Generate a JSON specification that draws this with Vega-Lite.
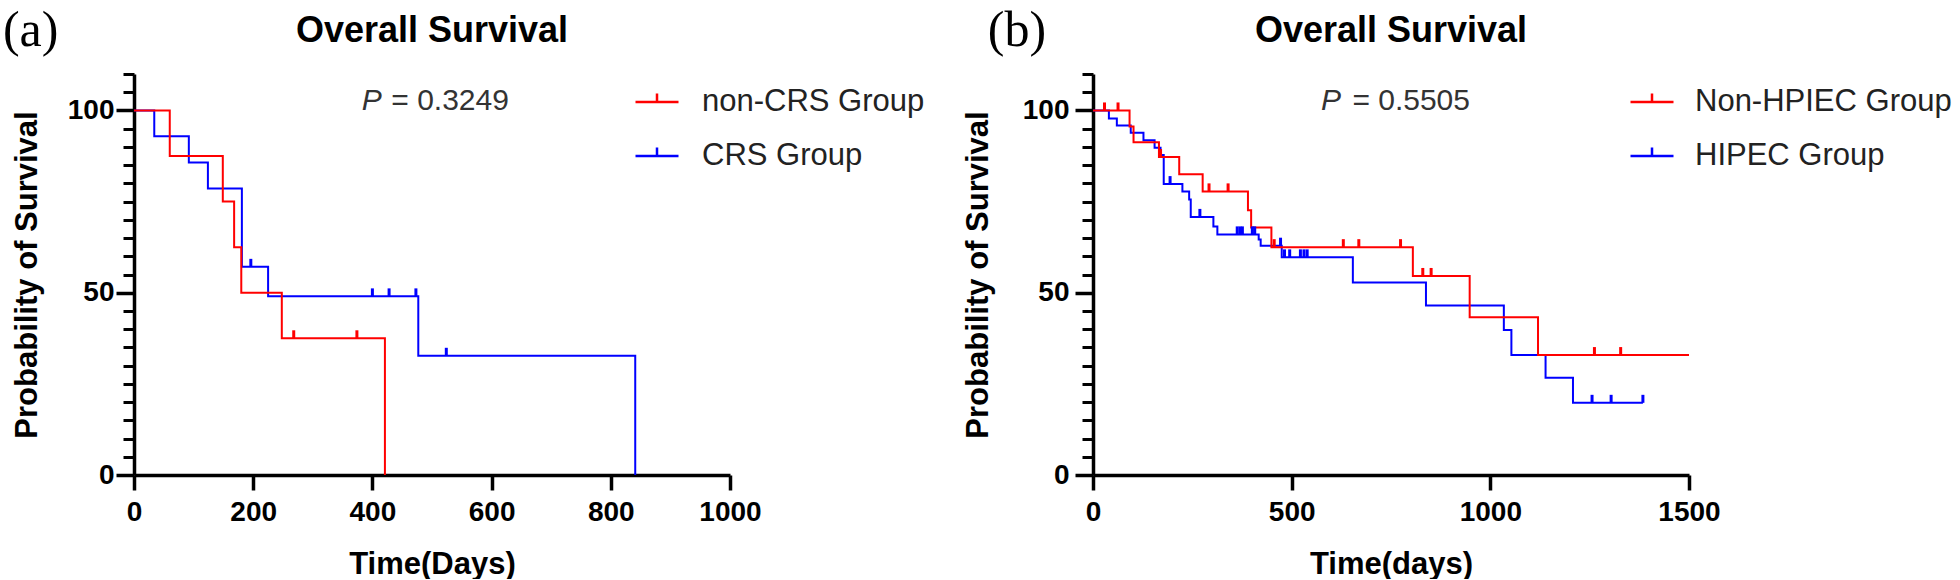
{
  "$schema": "https://vega.github.io/schema/vega-lite/v6.json",
  "background": "white",
  "padding": {"left": 2, "top": 5, "right": 0, "bottom": 0},
  "config": {"view": {"stroke": null}, "font": "Liberation Sans"},
  "bounds": "flush",
  "spacing": 363,
  "resolve": {"scale": {"color": "independent"}, "legend": {"color": "independent"}},
  "hconcat": [
    {
      "width": 596,
      "height": 401,
      "data": {"values": [
        {"group": "CRS Group", "t": 0, "s": 100, "c": 0},
        {"group": "CRS Group", "t": 34, "s": 92.9, "c": 0},
        {"group": "CRS Group", "t": 92, "s": 85.7, "c": 0},
        {"group": "CRS Group", "t": 124, "s": 78.6, "c": 0},
        {"group": "CRS Group", "t": 181, "s": 57.1, "c": 0},
        {"group": "CRS Group", "t": 196, "s": 57.1, "c": 1},
        {"group": "CRS Group", "t": 225, "s": 49.0, "c": 0},
        {"group": "CRS Group", "t": 400, "s": 49.0, "c": 1},
        {"group": "CRS Group", "t": 428, "s": 49.0, "c": 1},
        {"group": "CRS Group", "t": 473, "s": 49.0, "c": 1},
        {"group": "CRS Group", "t": 477, "s": 32.7, "c": 0},
        {"group": "CRS Group", "t": 524, "s": 32.7, "c": 1},
        {"group": "CRS Group", "t": 841, "s": 0, "c": 0},
        {"group": "non-CRS Group", "t": 0, "s": 100, "c": 0},
        {"group": "non-CRS Group", "t": 60, "s": 87.5, "c": 0},
        {"group": "non-CRS Group", "t": 149, "s": 75, "c": 0},
        {"group": "non-CRS Group", "t": 168, "s": 62.5, "c": 0},
        {"group": "non-CRS Group", "t": 180, "s": 50, "c": 0},
        {"group": "non-CRS Group", "t": 248, "s": 37.5, "c": 0},
        {"group": "non-CRS Group", "t": 268, "s": 37.5, "c": 1},
        {"group": "non-CRS Group", "t": 374, "s": 37.5, "c": 1},
        {"group": "non-CRS Group", "t": 421, "s": 0, "c": 0}
      ]},
      "layer": [
        {
          "mark": {"type": "line", "interpolate": "step-after", "strokeWidth": 2},
          "encoding": {
            "x": {"field": "t", "type": "quantitative",
              "scale": {"domain": [0, 1000], "nice": false, "zero": false},
              "axis": {"values": [0, 200, 400, 600, 800, 1000], "format": "d", "title": "Time(Days)",
                "titleFontSize": 31, "titleFontWeight": "bold", "titleColor": "black", "titlePadding": 23,
                "labelFontSize": 28, "labelFontWeight": "bold", "labelColor": "black", "labelPadding": 8,
                "labelFlush": false, "labelOverlap": false,
                "tickSize": 15, "tickWidth": 3.5, "tickColor": "black",
                "domainColor": "black", "domainWidth": 3.5, "grid": false}},
            "y": {"field": "s", "type": "quantitative",
              "scale": {"domain": [0, 110], "nice": false},
              "axis": {"orient": "left", "values": [0, 50, 100], "title": "Probability of Survival",
                "titleFontSize": 31, "titleFontWeight": "bold", "titleColor": "black", "titlePadding": 24,
                "labelFontSize": 28, "labelFontWeight": "bold", "labelColor": "black", "labelPadding": 2,
                "tickSize": 18, "tickWidth": 3.5, "tickColor": "black",
                "domainColor": "black", "domainWidth": 3.5, "grid": false}},
            "color": {"field": "group", "type": "nominal",
              "scale": {"domain": ["non-CRS Group", "CRS Group"], "range": ["#FF0000", "#0000FF"]},
              "legend": {"orient": "none", "legendX": 500, "legendY": 5, "title": null, "padding": 0,
                "symbolType": "M-1,0H1M0,0V-0.4", "symbolSize": 1849, "symbolStrokeWidth": 2.5,
                "symbolFillColor": "transparent", "labelLimit": 500,
                "labelFontSize": 31, "labelFontWeight": "normal", "labelColor": "#222222", "labelOffset": 22, "rowPadding": 16}}
          }
        },
        {
          "transform": [{"filter": "datum.c == 1"}],
          "mark": {"type": "point", "shape": "M0,0V-1", "size": 256, "strokeWidth": 3, "filled": false, "opacity": 1},
          "encoding": {
            "x": {"field": "t", "type": "quantitative", "axis": null},
            "y": {"field": "s", "type": "quantitative",
              "axis": {"orient": "left", "values": [5, 10, 15, 20, 25, 30, 35, 40, 45, 55, 60, 65, 70, 75, 80, 85, 90, 95, 105, 110],
                "labels": false, "title": null, "domain": false, "grid": false,
                "tickSize": 11, "tickWidth": 3, "tickColor": "black"}},
            "color": {"field": "group", "type": "nominal", "legend": null}
          }
        },
        {
          "data": {"values": [{"label": "(a)"}]},
          "mark": {"type": "text", "font": "Liberation Serif", "fontSize": 50, "fontWeight": "normal", "align": "left", "baseline": "alphabetic", "color": "black"},
          "encoding": {"text": {"field": "label"}, "x": {"datum": -220, "type": "quantitative", "axis": null}, "y": {"datum": 117.8, "type": "quantitative", "axis": null}}
        },
        {
          "data": {"values": [{"label": "Overall Survival"}]},
          "mark": {"type": "text", "fontSize": 36, "fontWeight": "bold", "align": "center", "baseline": "alphabetic", "color": "black"},
          "encoding": {"text": {"field": "label"}, "x": {"datum": 500, "type": "quantitative", "axis": null}, "y": {"datum": 118.8, "type": "quantitative", "axis": null}}
        },
        {
          "data": {"values": [{"label": "P"}]},
          "mark": {"type": "text", "fontSize": 30, "fontStyle": "italic", "fontWeight": "normal", "align": "left", "baseline": "alphabetic", "color": "#333333"},
          "encoding": {"text": {"field": "label"}, "x": {"datum": 382, "type": "quantitative", "axis": null}, "y": {"datum": 100, "type": "quantitative", "axis": null}}
        },
        {
          "data": {"values": [{"label": "= 0.3249"}]},
          "mark": {"type": "text", "fontSize": 30, "fontWeight": "normal", "align": "left", "baseline": "alphabetic", "color": "#333333"},
          "encoding": {"text": {"field": "label"}, "x": {"datum": 431.7, "type": "quantitative", "axis": null}, "y": {"datum": 100, "type": "quantitative", "axis": null}}
        }
      ],
      "resolve": {"axis": {"x": "independent", "y": "independent"}}
    },
    {
      "width": 596,
      "height": 401,
      "data": {"values": [
        {"group": "HIPEC Group", "t": 0, "s": 100, "c": 0},
        {"group": "HIPEC Group", "t": 40, "s": 97.8, "c": 0},
        {"group": "HIPEC Group", "t": 60, "s": 95.9, "c": 0},
        {"group": "HIPEC Group", "t": 95, "s": 93.9, "c": 0},
        {"group": "HIPEC Group", "t": 127, "s": 91.8, "c": 0},
        {"group": "HIPEC Group", "t": 155, "s": 89.8, "c": 0},
        {"group": "HIPEC Group", "t": 170, "s": 87.8, "c": 0},
        {"group": "HIPEC Group", "t": 178, "s": 79.8, "c": 0},
        {"group": "HIPEC Group", "t": 194, "s": 79.8, "c": 1},
        {"group": "HIPEC Group", "t": 225, "s": 77.8, "c": 0},
        {"group": "HIPEC Group", "t": 242, "s": 75.6, "c": 0},
        {"group": "HIPEC Group", "t": 246, "s": 70.8, "c": 0},
        {"group": "HIPEC Group", "t": 269, "s": 70.8, "c": 1},
        {"group": "HIPEC Group", "t": 303, "s": 68.2, "c": 0},
        {"group": "HIPEC Group", "t": 313, "s": 66.0, "c": 0},
        {"group": "HIPEC Group", "t": 363, "s": 66.0, "c": 1},
        {"group": "HIPEC Group", "t": 370, "s": 66.0, "c": 1},
        {"group": "HIPEC Group", "t": 376, "s": 66.0, "c": 1},
        {"group": "HIPEC Group", "t": 401, "s": 66.0, "c": 1},
        {"group": "HIPEC Group", "t": 407, "s": 66.0, "c": 1},
        {"group": "HIPEC Group", "t": 417, "s": 64.6, "c": 0},
        {"group": "HIPEC Group", "t": 422, "s": 62.9, "c": 0},
        {"group": "HIPEC Group", "t": 472, "s": 62.9, "c": 1},
        {"group": "HIPEC Group", "t": 475, "s": 59.7, "c": 0},
        {"group": "HIPEC Group", "t": 482, "s": 59.7, "c": 1},
        {"group": "HIPEC Group", "t": 495, "s": 59.7, "c": 1},
        {"group": "HIPEC Group", "t": 522, "s": 59.7, "c": 1},
        {"group": "HIPEC Group", "t": 531, "s": 59.7, "c": 1},
        {"group": "HIPEC Group", "t": 539, "s": 59.7, "c": 1},
        {"group": "HIPEC Group", "t": 654, "s": 52.8, "c": 0},
        {"group": "HIPEC Group", "t": 838, "s": 46.5, "c": 0},
        {"group": "HIPEC Group", "t": 1034, "s": 39.8, "c": 0},
        {"group": "HIPEC Group", "t": 1053, "s": 32.9, "c": 0},
        {"group": "HIPEC Group", "t": 1139, "s": 26.7, "c": 0},
        {"group": "HIPEC Group", "t": 1208, "s": 19.8, "c": 0},
        {"group": "HIPEC Group", "t": 1256, "s": 19.8, "c": 1},
        {"group": "HIPEC Group", "t": 1304, "s": 19.8, "c": 1},
        {"group": "HIPEC Group", "t": 1384, "s": 19.8, "c": 1},
        {"group": "Non-HPIEC Group", "t": 0, "s": 100, "c": 0},
        {"group": "Non-HPIEC Group", "t": 29, "s": 100, "c": 1},
        {"group": "Non-HPIEC Group", "t": 63, "s": 100, "c": 1},
        {"group": "Non-HPIEC Group", "t": 92, "s": 95.6, "c": 0},
        {"group": "Non-HPIEC Group", "t": 102, "s": 91.3, "c": 0},
        {"group": "Non-HPIEC Group", "t": 166, "s": 87.2, "c": 0},
        {"group": "Non-HPIEC Group", "t": 170, "s": 87.2, "c": 1},
        {"group": "Non-HPIEC Group", "t": 217, "s": 82.5, "c": 0},
        {"group": "Non-HPIEC Group", "t": 276, "s": 77.8, "c": 0},
        {"group": "Non-HPIEC Group", "t": 292, "s": 77.8, "c": 1},
        {"group": "Non-HPIEC Group", "t": 340, "s": 77.8, "c": 1},
        {"group": "Non-HPIEC Group", "t": 390, "s": 72.6, "c": 0},
        {"group": "Non-HPIEC Group", "t": 398, "s": 67.9, "c": 0},
        {"group": "Non-HPIEC Group", "t": 449, "s": 62.5, "c": 0},
        {"group": "Non-HPIEC Group", "t": 456, "s": 62.5, "c": 1},
        {"group": "Non-HPIEC Group", "t": 630, "s": 62.5, "c": 1},
        {"group": "Non-HPIEC Group", "t": 669, "s": 62.5, "c": 1},
        {"group": "Non-HPIEC Group", "t": 774, "s": 62.5, "c": 1},
        {"group": "Non-HPIEC Group", "t": 805, "s": 54.6, "c": 0},
        {"group": "Non-HPIEC Group", "t": 830, "s": 54.6, "c": 1},
        {"group": "Non-HPIEC Group", "t": 851, "s": 54.6, "c": 1},
        {"group": "Non-HPIEC Group", "t": 948, "s": 43.3, "c": 0},
        {"group": "Non-HPIEC Group", "t": 1120, "s": 32.9, "c": 0},
        {"group": "Non-HPIEC Group", "t": 1262, "s": 32.9, "c": 1},
        {"group": "Non-HPIEC Group", "t": 1328, "s": 32.9, "c": 1},
        {"group": "Non-HPIEC Group", "t": 1500, "s": 32.9, "c": 0}
      ]},
      "layer": [
        {
          "mark": {"type": "line", "interpolate": "step-after", "strokeWidth": 2},
          "encoding": {
            "x": {"field": "t", "type": "quantitative",
              "scale": {"domain": [0, 1500], "nice": false, "zero": false},
              "axis": {"values": [0, 500, 1000, 1500], "format": "d", "title": "Time(days)",
                "titleFontSize": 31, "titleFontWeight": "bold", "titleColor": "black", "titlePadding": 23,
                "labelFontSize": 28, "labelFontWeight": "bold", "labelColor": "black", "labelPadding": 8,
                "labelFlush": false, "labelOverlap": false,
                "tickSize": 15, "tickWidth": 3.5, "tickColor": "black",
                "domainColor": "black", "domainWidth": 3.5, "grid": false}},
            "y": {"field": "s", "type": "quantitative",
              "scale": {"domain": [0, 110], "nice": false},
              "axis": {"orient": "left", "values": [0, 50, 100], "title": "Probability of Survival",
                "titleFontSize": 31, "titleFontWeight": "bold", "titleColor": "black", "titlePadding": 28,
                "labelFontSize": 28, "labelFontWeight": "bold", "labelColor": "black", "labelPadding": 6,
                "tickSize": 18, "tickWidth": 3.5, "tickColor": "black",
                "domainColor": "black", "domainWidth": 3.5, "grid": false}},
            "color": {"field": "group", "type": "nominal",
              "scale": {"domain": ["Non-HPIEC Group", "HIPEC Group"], "range": ["#FF0000", "#0000FF"]},
              "legend": {"orient": "none", "legendX": 536, "legendY": 5, "title": null, "padding": 0,
                "symbolType": "M-1,0H1M0,0V-0.4", "symbolSize": 1849, "symbolStrokeWidth": 2.5,
                "symbolFillColor": "transparent", "labelLimit": 500,
                "labelFontSize": 31, "labelFontWeight": "normal", "labelColor": "#222222", "labelOffset": 20, "rowPadding": 16}}
          }
        },
        {
          "transform": [{"filter": "datum.c == 1"}],
          "mark": {"type": "point", "shape": "M0,0V-1", "size": 256, "strokeWidth": 3, "filled": false, "opacity": 1},
          "encoding": {
            "x": {"field": "t", "type": "quantitative", "axis": null},
            "y": {"field": "s", "type": "quantitative",
              "axis": {"orient": "left", "values": [5, 10, 15, 20, 25, 30, 35, 40, 45, 55, 60, 65, 70, 75, 80, 85, 90, 95, 105, 110],
                "labels": false, "title": null, "domain": false, "grid": false,
                "tickSize": 11, "tickWidth": 3, "tickColor": "black"}},
            "color": {"field": "group", "type": "nominal", "legend": null}
          }
        },
        {
          "data": {"values": [{"label": "(b)"}]},
          "mark": {"type": "text", "font": "Liberation Serif", "fontSize": 50, "fontWeight": "normal", "align": "left", "baseline": "alphabetic", "color": "black"},
          "encoding": {"text": {"field": "label"}, "x": {"datum": -264.8, "type": "quantitative", "axis": null}, "y": {"datum": 117.8, "type": "quantitative", "axis": null}}
        },
        {
          "data": {"values": [{"label": "Overall Survival"}]},
          "mark": {"type": "text", "fontSize": 36, "fontWeight": "bold", "align": "center", "baseline": "alphabetic", "color": "black"},
          "encoding": {"text": {"field": "label"}, "x": {"datum": 750, "type": "quantitative", "axis": null}, "y": {"datum": 118.8, "type": "quantitative", "axis": null}}
        },
        {
          "data": {"values": [{"label": "P"}]},
          "mark": {"type": "text", "fontSize": 30, "fontStyle": "italic", "fontWeight": "normal", "align": "left", "baseline": "alphabetic", "color": "#333333"},
          "encoding": {"text": {"field": "label"}, "x": {"datum": 574, "type": "quantitative", "axis": null}, "y": {"datum": 100, "type": "quantitative", "axis": null}}
        },
        {
          "data": {"values": [{"label": "= 0.5505"}]},
          "mark": {"type": "text", "fontSize": 30, "fontWeight": "normal", "align": "left", "baseline": "alphabetic", "color": "#333333"},
          "encoding": {"text": {"field": "label"}, "x": {"datum": 652.8, "type": "quantitative", "axis": null}, "y": {"datum": 100, "type": "quantitative", "axis": null}}
        }
      ],
      "resolve": {"axis": {"x": "independent", "y": "independent"}}
    }
  ]
}
